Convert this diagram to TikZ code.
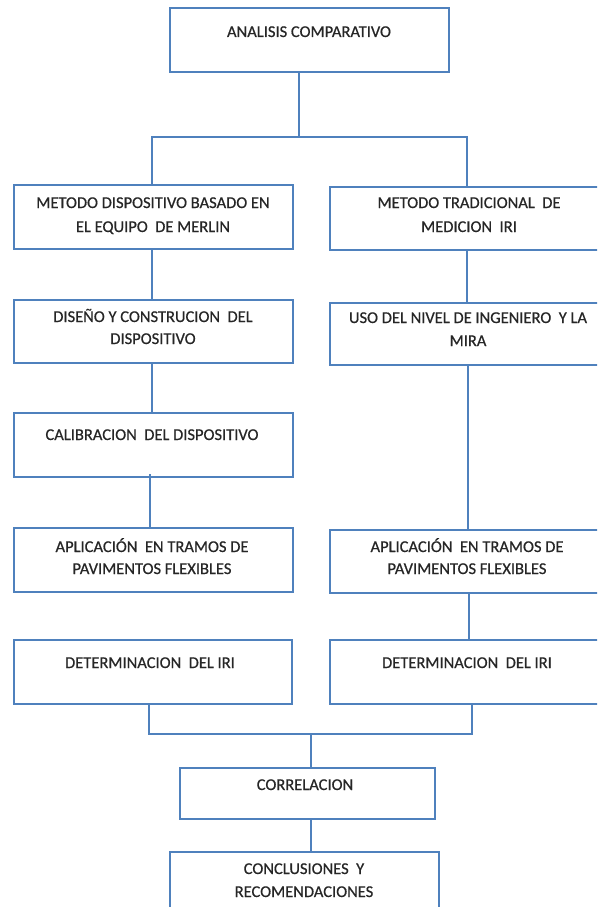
\documentclass[tikz,border=0pt]{standalone}
\usepackage{fontspec}
\setmainfont{Carlito}
\newfontfamily\boxfont[FakeBold=0.6]{Carlito}
\definecolor{frame}{RGB}{79,129,189}
\tikzset{
  fbox/.style={draw=frame, line width=1.6pt, fill=white, rectangle,
               inner sep=0pt, outer sep=0pt, anchor=north west},
  txt/.style={anchor=base, inner sep=0pt, font=\boxfont\fontsize{16.5}{20}\selectfont, text=black!85},
  link/.style={draw=frame, line width=1.6pt}
}
% box: name, left, top, right, bottom
\newcommand{\flowbox}[5]{%
  \node[fbox, minimum width={#4-#2}, minimum height={#5-#3}] (#1) at (#2,#3) {};}
\begin{document}
\begin{tikzpicture}[x=1pt, y=-1pt]
\path[use as bounding box] (0,0) rectangle (597,907);
\clip (0,0) rectangle (597,907);
\fill[white] (0,0) rectangle (597,907);

% boxes
\flowbox{top}{170}{8}{449}{72}
\flowbox{L1}{14}{185}{293}{249}
\flowbox{R1}{330}{187}{606}{250}
\flowbox{L2}{14}{300}{293}{363}
\flowbox{R2}{330}{303}{606}{365}
\flowbox{L3}{14}{413}{293}{477}
\flowbox{L4}{14}{528}{293}{592}
\flowbox{R4}{330}{530}{606}{593}
\flowbox{L5}{14}{640}{292}{704}
\flowbox{R5}{330}{640}{606}{704}
\flowbox{cor}{180}{768}{435}{819}
\flowbox{con}{170}{852}{439}{916}

% texts
\node[txt] (topa) at (309,37) {ANALISIS COMPARATIVO};
\node[txt] (L1a) at (153,208) {METODO DISPOSITIVO BASADO EN};
\node[txt] (L1b) at (153,232) {EL EQUIPO\ \ DE MERLIN};
\node[txt] (R1a) at (469,208) {METODO TRADICIONAL\ \ DE};
\node[txt] (R1b) at (469,232) {MEDICION\ \ IRI};
\node[txt] (L2a) at (153,322) {DISEÑO Y CONSTRUCION\ \ DEL};
\node[txt] (L2b) at (153,344) {DISPOSITIVO};
\node[txt] (R2a) at (468,323) {USO DEL NIVEL DE INGENIERO\ \ Y LA};
\node[txt] (R2b) at (468,346) {MIRA};
\node[txt] (L3a) at (152,440) {CALIBRACION\ \ DEL DISPOSITIVO};
\node[txt] (L4a) at (152,552) {APLICACIÓN\ \ EN TRAMOS DE};
\node[txt] (L4b) at (152,574) {PAVIMENTOS FLEXIBLES};
\node[txt] (R4a) at (467,552) {APLICACIÓN\ \ EN TRAMOS DE};
\node[txt] (R4b) at (467,574) {PAVIMENTOS FLEXIBLES};
\node[txt] (L5a) at (150,668) {DETERMINACION\ \ DEL IRI};
\node[txt] (R5a) at (467,668) {DETERMINACION\ \ DEL IRI};
\node[txt] (cora) at (305,790) {CORRELACION};
\node[txt] (cona) at (304,874) {CONCLUSIONES\ \ Y};
\node[txt] (conb) at (304,897) {RECOMENDACIONES};

% junction points of the bus lines
\coordinate (jtop) at (299,137);
\coordinate (jL) at (152,137);
\coordinate (jR) at (467,137);
\coordinate (bL) at (149,734);
\coordinate (bR) at (472,734);
\coordinate (bM) at (311,734);

% connectors
\draw[link] (top.south -| jtop) -- (jtop);
\draw[link] (jL |- L1.north) -- (jL) -- (jR) -- (jR |- R1.north);
\draw[link] (L1.south -| jL) -- (L2.north -| jL);
\draw[link] (L2.south -| jL) -- (L3.north -| jL);
\draw[link] ([xshift=-2pt]L3.south -| jL) ++(0,-3) -- ([xshift=-2pt]L4.north -| jL);
\draw[link] (R1.south -| jR) -- (R2.north -| jR);
\draw[link] ([xshift=1pt]R2.south -| jR) -- ([xshift=1pt]R4.north -| jR);
\draw[link] ([xshift=2pt]R4.south -| jR) -- ([xshift=2pt]R5.north -| jR);
\draw[link] (L5.south -| bL) -- (bL) -- (bR) -- (R5.south -| bR);
\draw[link] (bM) -- (cor.north -| bM);
\draw[link] (cor.south -| bM) -- (con.north -| bM);
\end{tikzpicture}
\end{document}
